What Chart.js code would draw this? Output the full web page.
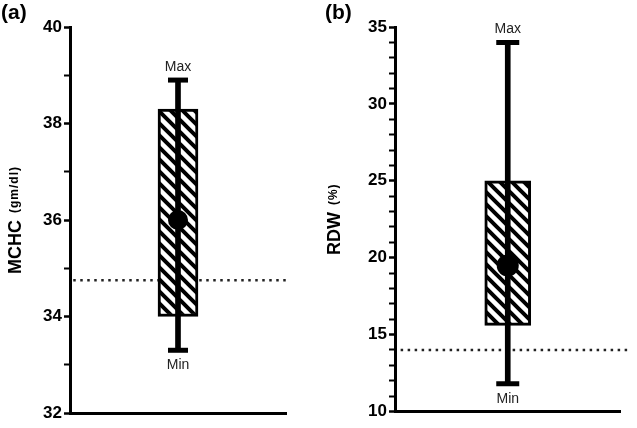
<!DOCTYPE html>
<html>
<head>
<meta charset="utf-8">
<script src="https://cdn.jsdelivr.net/npm/chart.js@4"></script>
<style>
  body { margin: 0; background: #fff; }
  #wrap { display: flex; width: 637px; height: 428px; }
  canvas { display: block; }
</style>
</head>
<body>
<div id="wrap">
  <canvas id="c0" width="318" height="428"></canvas>
  <canvas id="c1" width="319" height="428"></canvas>
</div>
<script>
// values, one entry per panel
const panelLabels = ['(a)', '(b)'];
const yTitles = ['MCHC', 'RDW'];
const yUnits = ['(gm/dl)', '(%)'];
const minVals = [33.3, 11.8];
const q1Vals = [34.0, 15.6];
const q3Vals = [38.3, 25.0];
const maxVals = [38.9, 34.0];
const meanVals = [36.0, 19.5];
const refVals = [34.75, 14.0];
const yMins = [32, 10];
const yMaxs = [40, 35];
const majorSteps = [2, 5];

const FONT = '"Liberation Sans", Arial, sans-serif';

// per-panel layout
const axisWidth = [70, 77];
const padRight = [32, 9];
const padBottom = [9, 10];
const boxWidth = [40, 46];
const capRadius = [10, 11.5];
const dotRadius = [10, 11];
const refStart = [0.03, 0.05];
const refEnd = [2, 2.08];

function hatch() {
  const s = 12;
  const c = document.createElement('canvas');
  c.width = s; c.height = s;
  const g = c.getContext('2d');
  g.fillStyle = '#fff';
  g.fillRect(0, 0, s, s);
  g.strokeStyle = '#000';
  g.lineWidth = 4;
  g.beginPath();
  g.moveTo(-3, -3); g.lineTo(s + 3, s + 3);
  g.moveTo(-3, s - 3); g.lineTo(3, s + 3);
  g.moveTo(s - 3, -3); g.lineTo(s + 3, 3);
  g.stroke();
  return g.createPattern(c, 'repeat');
}

const labelsPlugin = {
  id: 'labels',
  afterDraw(chart) {
    const i = chart.options.plugins.labels.panel;
    const ctx = chart.ctx;
    const ys = chart.scales.y, xs = chart.scales.x;
    const cx = xs.getPixelForValue(1);
    ctx.save();
    ctx.fillStyle = '#222';
    ctx.font = '14px ' + FONT;
    ctx.textAlign = 'center';
    ctx.textBaseline = 'middle';
    ctx.fillText('Max', cx, ys.getPixelForValue(maxVals[i]) - 13);
    ctx.fillText('Min', cx, ys.getPixelForValue(minVals[i]) + 15);

    ctx.fillStyle = '#000';
    ctx.textAlign = 'left';
    ctx.textBaseline = 'top';
    ctx.font = 'bold 21px ' + FONT;
    ctx.fillText(panelLabels[i], i === 0 ? 1 : 7, 3);

    // rotated y title: big name + small unit
    const area = chart.chartArea;
    const midY = (area.top + area.bottom) / 2;
    ctx.translate(i === 0 ? 16 : 17, midY);
    ctx.rotate(-Math.PI / 2);
    ctx.textBaseline = 'middle';
    ctx.font = 'bold 18px ' + FONT;
    const w1 = ctx.measureText(yTitles[i]).width;
    ctx.font = 'bold 12px ' + FONT;
    ctx.letterSpacing = '1px';
    const w2 = ctx.measureText(yUnits[i]).width;
    const gap = 7;
    const start = -(w1 + gap + w2) / 2;
    ctx.letterSpacing = '0px';
    ctx.font = 'bold 18px ' + FONT;
    ctx.fillText(yTitles[i], start, 0);
    ctx.font = 'bold 12px ' + FONT;
    ctx.letterSpacing = '1px';
    ctx.fillText(yUnits[i], start + w1 + gap, -1);
    ctx.restore();
  }
};

function config(i) {
  return {
    type: 'bar',
    data: {
      datasets: [
        {
          type: 'line',
          data: [{ x: refStart[i], y: refVals[i] }, { x: refEnd[i], y: refVals[i] }],
          borderColor: '#222',
          borderWidth: 2.5,
          borderDash: [2.5, 4.5],
          pointRadius: 0,
          clip: false,
          order: 5
        },
        {
          data: [{ x: 1, y: [q1Vals[i], q3Vals[i]] }],
          backgroundColor: hatch(),
          borderColor: '#000',
          borderWidth: 3,
          borderSkipped: false,
          barThickness: boxWidth[i],
          grouped: false,
          order: 4
        },
        {
          data: [{ x: 1, y: [minVals[i], maxVals[i]] }],
          backgroundColor: '#000',
          borderWidth: 0,
          barThickness: 5,
          grouped: false,
          order: 3
        },
        {
          type: 'scatter',
          data: [{ x: 1, y: minVals[i] }, { x: 1, y: maxVals[i] }],
          pointStyle: 'line',
          radius: capRadius[i],
          borderWidth: 5,
          borderColor: '#000',
          order: 2
        },
        {
          type: 'scatter',
          data: [{ x: 1, y: meanVals[i] }],
          pointStyle: 'circle',
          radius: dotRadius[i],
          backgroundColor: '#000',
          borderColor: '#000',
          borderWidth: 0,
          order: 1
        }
      ]
    },
    options: {
      responsive: false,
      animation: false,
      layout: { padding: { left: 0, top: 27, right: padRight[i], bottom: padBottom[i] } },
      plugins: {
        legend: { display: false },
        tooltip: { enabled: false },
        labels: { panel: i }
      },
      scales: {
        x: {
          type: 'linear',
          min: 0,
          max: 2,
          offset: false,
          ticks: { display: false },
          grid: { display: false },
          border: { display: true, color: '#000', width: 3 },
          afterFit(scale) { scale.height = 0; }
        },
        y: {
          type: 'linear',
          min: yMins[i],
          max: yMaxs[i],
          ticks: {
            stepSize: 1,
            autoSkip: false,
            padding: 2,
            color: '#000',
            font: { family: FONT, size: 17, weight: 'bold' },
            callback: v => (v % majorSteps[i] === 0 ? v : '')
          },
          grid: {
            drawOnChartArea: false,
            drawTicks: true,
            tickLength: 6,
            tickColor: '#000',
            tickWidth: c => (c.tick && c.tick.value % majorSteps[i] === 0 ? 2.5 : 2)
          },
          border: { display: true, color: '#000', width: 3 },
          afterFit(scale) { scale.width = axisWidth[i]; }
        }
      }
    },
    plugins: [labelsPlugin]
  };
}

[0, 1].forEach(i => new Chart(document.getElementById('c' + i), config(i)));
</script>
</body>
</html>
